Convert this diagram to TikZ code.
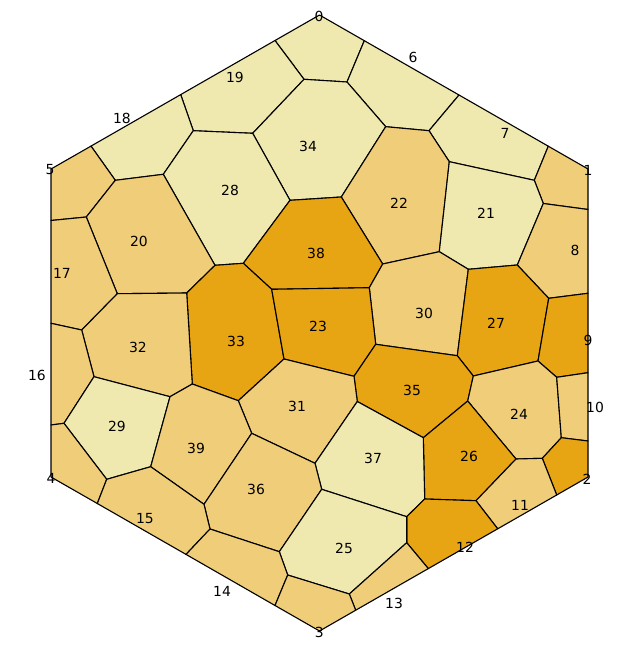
\documentclass[tikz,border=0pt]{standalone}
\usepackage{fontspec}
\setmainfont{DejaVu Sans}
\definecolor{cpale}{HTML}{EFE9AF}
\definecolor{cmid}{HTML}{F0CD78}
\definecolor{cdark}{HTML}{E7A413}
\begin{document}
\begin{tikzpicture}[x=1pt,y=-1pt,
  cell/.style={draw=black,line width=1.1pt,line join=round},
  pale/.style={cell,fill=cpale},
  mid/.style={cell,fill=cmid},
  dark/.style={cell,fill=cdark},
  lab/.style={font=\fontsize{13.9}{16}\selectfont,inner sep=0pt}]
\useasboundingbox (0,0) rectangle (640,650);
% hexagon corners
\coordinate (H0) at (319.5,15);
\coordinate (H1) at (588,169);
\coordinate (H2) at (588,477);
\coordinate (H3) at (319.5,631);
\coordinate (H4) at (51,477);
\coordinate (H5) at (51,169);
% boundary points
\coordinate (a1) at (91,146.1);
\coordinate (a2) at (180.7,94.6);
\coordinate (a3) at (275,40.5);
\coordinate (b1) at (364.3,40.7);
\coordinate (b2) at (459,95.0);
\coordinate (b3) at (548.3,146.2);
\coordinate (r1) at (588,209.5);
\coordinate (r2) at (588,293.3);
\coordinate (r3) at (588,372.7);
\coordinate (r4) at (588,441);
\coordinate (c1) at (556.7,495.0);
\coordinate (c2) at (497.7,528.8);
\coordinate (c3) at (428.3,568.6);
\coordinate (c4) at (355.7,610.2);
\coordinate (d1) at (275,605.5);
\coordinate (d2) at (186,554.4);
\coordinate (d3) at (97.3,503.5);
\coordinate (l1) at (51,220.5);
\coordinate (l2) at (51,323.3);
\coordinate (l3) at (51,425);
% interior vertices
\coordinate (p1) at (304,79.3);
\coordinate (p2) at (347,82);
\coordinate (p3) at (193.3,130.7);
\coordinate (p4) at (252.7,133.3);
\coordinate (p5) at (385.7,126.7);
\coordinate (p6) at (429,130.7);
\coordinate (p7) at (449.3,161.7);
\coordinate (p8) at (534.3,180.3);
\coordinate (p9) at (543.3,203.5);
\coordinate (p10) at (115.3,180.3);
\coordinate (p11) at (163.3,174.3);
\coordinate (p12) at (86.3,217);
\coordinate (p13) at (290,200.3);
\coordinate (p14) at (341.3,197);
\coordinate (p15) at (215,265.3);
\coordinate (p16) at (243.3,263.3);
\coordinate (p17) at (382.7,264);
\coordinate (p18) at (439.3,251.7);
\coordinate (p19) at (468.3,269.3);
\coordinate (p20) at (517.3,265);
\coordinate (p21) at (369.3,287.7);
\coordinate (p22) at (271.7,289.3);
\coordinate (p23) at (117.3,293.7);
\coordinate (p24) at (186.7,293);
\coordinate (p25) at (548.7,298.3);
\coordinate (p26) at (81.7,330);
\coordinate (p27) at (375.7,344.3);
\coordinate (p28) at (457.3,355.7);
\coordinate (p29) at (284,359);
\coordinate (p30) at (538,361);
\coordinate (p31) at (354,376.3);
\coordinate (p32) at (473.3,376);
\coordinate (p33) at (556.7,377.3);
\coordinate (p34) at (94,376.7);
\coordinate (p35) at (170,396.7);
\coordinate (p36) at (192.3,384);
\coordinate (p37) at (238.3,400.7);
\coordinate (p38) at (357.3,401.5);
\coordinate (p39) at (467.7,401);
\coordinate (p40) at (64,423.3);
\coordinate (p41) at (251.7,433.3);
\coordinate (p42) at (423.3,437.7);
\coordinate (p43) at (561.3,437.7);
\coordinate (p44) at (516,459);
\coordinate (p45) at (542.3,458.3);
\coordinate (p46) at (315,463.3);
\coordinate (p47) at (150.7,466.7);
\coordinate (p48) at (106.7,479.3);
\coordinate (p49) at (321.7,489.3);
\coordinate (p50) at (424.7,499);
\coordinate (p51) at (476,500.7);
\coordinate (p52) at (204,504.3);
\coordinate (p53) at (406.7,516.7);
\coordinate (p54) at (210,529);
\coordinate (p55) at (406.7,542.7);
\coordinate (p56) at (279.3,551.7);
\coordinate (p57) at (287.7,575);
\coordinate (p58) at (349.3,594);
% cells
\path[pale] (H0) -- (b1) -- (p2) -- (p1) -- (a3) -- cycle;
\path[pale] (b1) -- (b2) -- (p6) -- (p5) -- (p2) -- cycle;
\path[pale] (b2) -- (b3) -- (p8) -- (p7) -- (p6) -- cycle;
\path[mid] (b3) -- (H1) -- (r1) -- (p9) -- (p8) -- cycle;
\path[pale] (a2) -- (a3) -- (p1) -- (p4) -- (p3) -- cycle;
\path[pale] (a1) -- (a2) -- (p3) -- (p11) -- (p10) -- cycle;
\path[mid] (H5) -- (a1) -- (p10) -- (p12) -- (l1) -- cycle;
\path[pale] (p1) -- (p2) -- (p5) -- (p14) -- (p13) -- (p4) -- cycle;
\path[mid] (p5) -- (p6) -- (p7) -- (p18) -- (p17) -- (p14) -- cycle;
\path[pale] (p7) -- (p8) -- (p9) -- (p20) -- (p19) -- (p18) -- cycle;
\path[mid] (p9) -- (r1) -- (r2) -- (p25) -- (p20) -- cycle;
\path[pale] (p3) -- (p4) -- (p13) -- (p16) -- (p15) -- (p11) -- cycle;
\path[mid] (p10) -- (p11) -- (p15) -- (p24) -- (p23) -- (p12) -- cycle;
\path[mid] (l1) -- (p12) -- (p23) -- (p26) -- (l2) -- cycle;
\path[dark] (p13) -- (p14) -- (p17) -- (p21) -- (p22) -- (p16) -- cycle;
\path[dark] (p15) -- (p16) -- (p22) -- (p29) -- (p37) -- (p36) -- (p24) -- cycle;
\path[mid] (p17) -- (p18) -- (p19) -- (p28) -- (p27) -- (p21) -- cycle;
\path[dark] (p19) -- (p20) -- (p25) -- (p30) -- (p32) -- (p28) -- cycle;
\path[dark] (p25) -- (r2) -- (r3) -- (p33) -- (p30) -- cycle;
\path[dark] (p21) -- (p27) -- (p31) -- (p29) -- (p22) -- cycle;
\path[mid] (p23) -- (p24) -- (p36) -- (p35) -- (p34) -- (p26) -- cycle;
\path[mid] (l2) -- (p26) -- (p34) -- (p40) -- (l3) -- cycle;
\path[dark] (p27) -- (p28) -- (p32) -- (p39) -- (p42) -- (p38) -- (p31) -- cycle;
\path[mid] (p29) -- (p31) -- (p38) -- (p46) -- (p41) -- (p37) -- cycle;
\path[mid] (p30) -- (p33) -- (p43) -- (p45) -- (p44) -- (p39) -- (p32) -- cycle;
\path[mid] (p33) -- (r3) -- (r4) -- (p43) -- cycle;
\path[pale] (p34) -- (p35) -- (p47) -- (p48) -- (p40) -- cycle;
\path[mid] (p35) -- (p36) -- (p37) -- (p41) -- (p52) -- (p47) -- cycle;
\path[mid] (l3) -- (p40) -- (p48) -- (d3) -- (H4) -- cycle;
\path[dark] (p39) -- (p44) -- (p51) -- (p50) -- (p42) -- cycle;
\path[pale] (p38) -- (p42) -- (p50) -- (p53) -- (p49) -- (p46) -- cycle;
\path[dark] (p43) -- (r4) -- (H2) -- (c1) -- (p45) -- cycle;
\path[mid] (p45) -- (c1) -- (c2) -- (p51) -- (p44) -- cycle;
\path[mid] (p41) -- (p46) -- (p49) -- (p56) -- (p54) -- (p52) -- cycle;
\path[mid] (p48) -- (p47) -- (p52) -- (p54) -- (d2) -- (d3) -- cycle;
\path[dark] (p50) -- (p51) -- (c2) -- (c3) -- (p55) -- (p53) -- cycle;
\path[pale] (p49) -- (p53) -- (p55) -- (p58) -- (p57) -- (p56) -- cycle;
\path[mid] (p54) -- (p56) -- (p57) -- (d1) -- (d2) -- cycle;
\path[mid] (p55) -- (c3) -- (c4) -- (p58) -- cycle;
\path[mid] (p57) -- (p58) -- (c4) -- (H3) -- (d1) -- cycle;
% labels
\node[lab] (n0) at (319,16) {0};
\node[lab] (n1) at (588,170) {1};
\node[lab] (n2) at (587,479) {2};
\node[lab] (n3) at (319.3,632) {3};
\node[lab] (n4) at (51,478) {4};
\node[lab] (n5) at (50,170) {5};
\node[lab] (n6) at (413,57) {6};
\node[lab] (n7) at (505,133) {7};
\node[lab] (n8) at (575,250) {8};
\node[lab] (n9) at (588,340) {9};
\node[lab] (n10) at (595,407) {10};
\node[lab] (n11) at (520,505) {11};
\node[lab] (n12) at (465,547) {12};
\node[lab] (n13) at (394,603) {13};
\node[lab] (n14) at (222,591) {14};
\node[lab] (n15) at (145,519) {15};
\node[lab] (n16) at (37,375) {16};
\node[lab] (n17) at (62,273) {17};
\node[lab] (n18) at (122,118) {18};
\node[lab] (n19) at (235,77) {19};
\node[lab] (n20) at (139,241) {20};
\node[lab] (n21) at (486,213) {21};
\node[lab] (n22) at (399,203) {22};
\node[lab] (n23) at (318,326) {23};
\node[lab] (n24) at (519,414) {24};
\node[lab] (n25) at (344,548) {25};
\node[lab] (n26) at (469,456) {26};
\node[lab] (n27) at (496,323) {27};
\node[lab] (n28) at (230,190) {28};
\node[lab] (n29) at (117,426) {29};
\node[lab] (n30) at (424,313) {30};
\node[lab] (n31) at (297,406) {31};
\node[lab] (n32) at (138,347) {32};
\node[lab] (n33) at (236,341) {33};
\node[lab] (n34) at (308,146) {34};
\node[lab] (n35) at (412,390) {35};
\node[lab] (n36) at (256,489) {36};
\node[lab] (n37) at (373,458) {37};
\node[lab] (n38) at (316,253) {38};
\node[lab] (n39) at (196,448) {39};
\end{tikzpicture}
\end{document}
